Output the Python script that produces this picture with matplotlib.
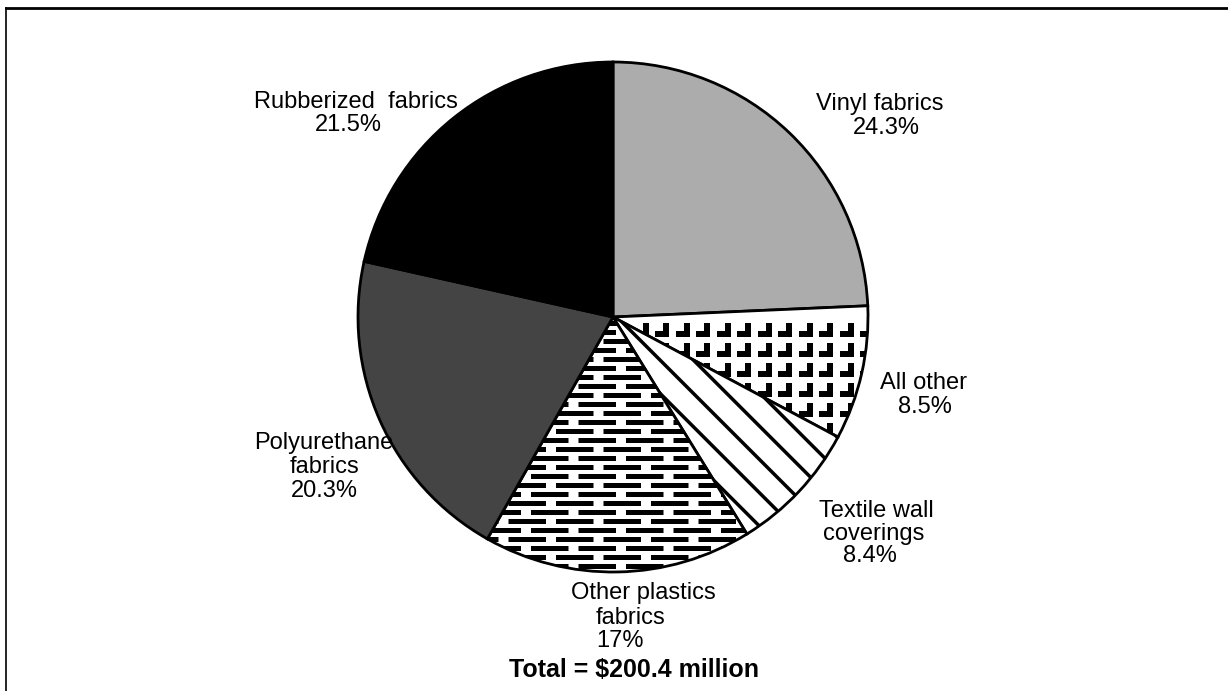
import numpy as np
import matplotlib.pyplot as plt
from matplotlib.path import Path

plt.rcParams['font.family'] = ['Liberation Sans', 'DejaVu Sans']
plt.rcParams['hatch.linewidth'] = 2.5

# data (clockwise from 12 o'clock)
categories = ['Vinyl fabrics', 'All other', 'Textile wall coverings',
              'Other plastics fabrics', 'Polyurethane fabrics', 'Rubberized fabrics']
shares = [24.3, 8.5, 8.4, 17, 20.3, 21.5]
name_lines = [['Vinyl fabrics'], ['All other'], ['Textile wall', 'coverings'],
              ['Other plastics', 'fabrics'], ['Polyurethane', 'fabrics'],
              ['Rubberized  fabrics']]
total_label = 'Total = $200.4 million'

W, H = 1228, 691


def py(y):
    # pixel row (from top) -> data y
    return H - y


# layout: (centre x, baseline y) for each text line, in pixels from top-left
line_pos = [
    [(880, 110), (886, 134)],
    [(923, 389), (925, 413)],
    [(876, 517), (874, 540), (870, 562)],
    [(643, 599), (630, 624), (620, 647)],
    [(324, 449), (324, 473), (324, 497)],
    [(356, 108), (348, 131)],
]
fills = ['#acacac', 'white', 'white', 'white', '#444444', 'black']
hatches = [None, None, '\\', None, None, None]
cx, cy, r = 613, 317, 255

fig = plt.figure(figsize=(12.28, 6.91), dpi=100)
ax = fig.add_axes([0, 0, 1, 1])

wedges, _ = ax.pie(shares, startangle=90, counterclock=False,
                   center=(cx, py(cy)), radius=r, colors=fills,
                   wedgeprops=dict(edgecolor='black', linewidth=2))
for w, h in zip(wedges, hatches):
    if h:
        w.set_hatch(h)

# "All other" texture: grid of reversed-L marks
ell = Path([(-0.5, -0.5), (0.5, -0.5), (0.5, 0.5), (0.1, 0.5),
            (0.1, -0.1), (-0.5, -0.1), (-0.5, -0.5)])
gx, gy = np.meshgrid(np.arange(cx + 8, cx + r + 20, 20.5),
                     np.arange(py(cy) - 13, py(cy) - 160, -20))
marks, = ax.plot(gx.ravel(), gy.ravel(), ls='none', marker=ell,
                 markersize=10.5, color='black', markeredgewidth=0)
marks.set_clip_path(wedges[1])

# "Other plastics" texture: staggered rows of short dashes
for i, yy in enumerate(np.arange(py(cy) - 6, py(cy) - r - 10, -9)):
    ln, = ax.plot([cx - 200, cx + 200], [yy, yy], color='black', lw=3.6,
                  ls=(5 * (i % 2), (7.5, 2.0)), solid_capstyle='butt')
    ln.set_clip_path(wedges[3])

for lines, v, pos in zip(name_lines, shares, line_pos):
    for txt, (x, y) in zip(lines + [f'{v:g}%'], pos):
        ax.text(x, py(y), txt, ha='center', va='baseline', fontsize=17)

ax.text(634, py(677), total_label, ha='center', va='baseline',
        fontsize=18, fontweight='bold')

# scanned frame
ax.plot([6, 6], [py(8), py(691)], color='black', lw=1.2, clip_on=False)
ax.plot([6, 1228], [py(8), py(8)], color='black', lw=2, clip_on=False)

ax.set_xlim(0, W)
ax.set_ylim(0, H)
ax.set_aspect('equal')
ax.set_axis_off()

fig.savefig('out.png', dpi=100)
